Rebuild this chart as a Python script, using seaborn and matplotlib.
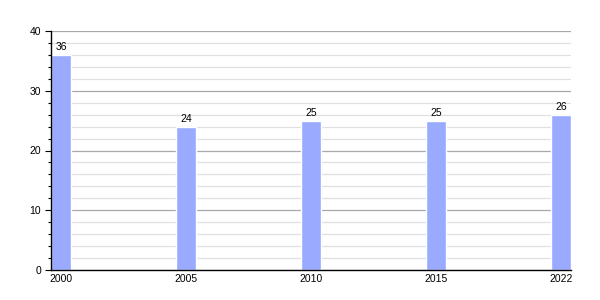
import matplotlib
matplotlib.use("Agg")
import matplotlib.pyplot as plt
import seaborn as sns
import pandas as pd
from matplotlib.ticker import MultipleLocator

years = ["2000", "2005", "2010", "2015", "2022"]
values = [36, 24, 25, 25, 26]

sns.set_theme(style="white")
plt.rcParams['font.family'] = ['Liberation Sans', 'DejaVu Sans']
plt.rcParams['text.color'] = 'black'
plt.rcParams['xtick.color'] = 'black'
plt.rcParams['ytick.color'] = 'black'

df = pd.DataFrame({"year": years, "value": values})

fig = plt.figure(figsize=(6, 3), dpi=100)
ax = fig.add_axes([51/600, 30/300, 520/600, 239/300])

sns.barplot(data=df, x="year", y="value", color="#99aaff", saturation=1,
            width=0.16, errorbar=None, ax=ax, zorder=2)

ax.set_xlim(-0.08, 4.08)
ax.set_ylim(0, 40)
ax.yaxis.set_major_locator(MultipleLocator(10))
ax.yaxis.set_minor_locator(MultipleLocator(2))
ax.grid(which="major", axis="y", color="#a8a8a8", linewidth=0.9)
ax.grid(which="minor", axis="y", color="#e0e0e0", linewidth=0.9)
ax.set_axisbelow(True)

for s in ["top", "right"]:
    ax.spines[s].set_visible(False)
for s in ["left", "bottom"]:
    ax.spines[s].set_color("black")
    ax.spines[s].set_linewidth(1.0)
    ax.spines[s].set_zorder(5)

ax.tick_params(axis="y", which="major", left=True, length=4, width=0.8,
               color="black", labelcolor="black", labelsize=7.5, pad=3)
ax.tick_params(axis="y", which="minor", left=True, length=2.5, width=0.8,
               color="black")
ax.tick_params(axis="x", length=0, labelsize=7.5, labelcolor="black", pad=3)
ax.set_xlabel("")
ax.set_ylabel("")

for c in ax.containers:
    ax.bar_label(c, labels=[str(v) for v in values], padding=2, fontsize=7.5,
                 color="black")

fig.savefig("out.png", dpi=100)
